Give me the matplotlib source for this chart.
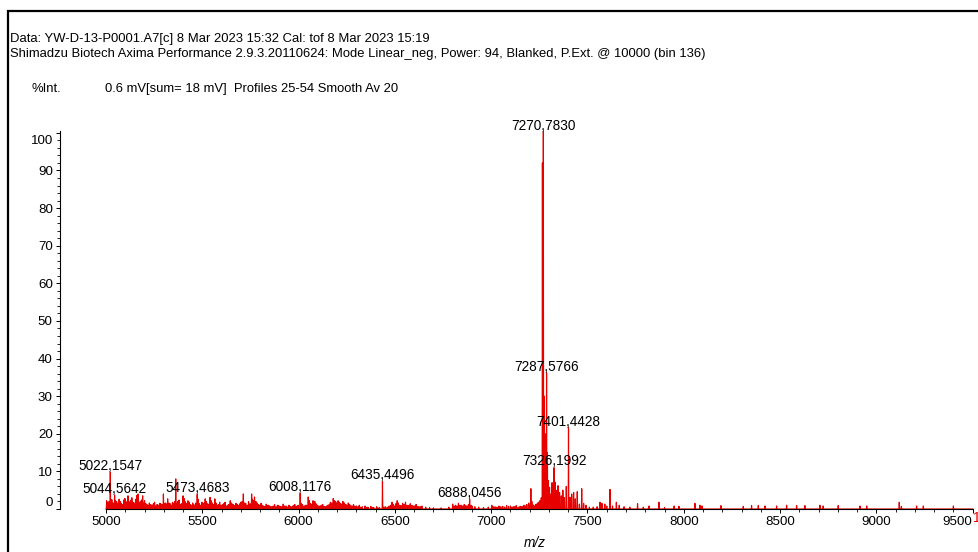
import matplotlib.pyplot as plt
from matplotlib.patches import Rectangle
from matplotlib.transforms import ScaledTranslation

plt.rcParams['font.family'] = ['Liberation Sans', 'DejaVu Sans']

# ---------------------------
# Text
# ---------------------------
header_1 = "Data: YW-D-13-P0001.A7[c] 8 Mar 2023 15:32 Cal: tof 8 Mar 2023 15:19"
header_2 = ("Shimadzu Biotech Axima Performance 2.9.3.20110624: Mode Linear_neg, "
            "Power: 94, Blanked, P.Ext. @ 10000 (bin 136)")
int_label = "%Int."
acq_info = "0.6 mV[sum= 18 mV]  Profiles 25-54 Smooth Av 20"

# ---------------------------
# Data
# ---------------------------
mz_start, mz_end = 5000, 9500

label_mz = [7270.7830, 7287.5766, 7401.4428, 7326.1992, 5022.1547,
            5044.5642, 5473.4683, 6008.1176, 6435.4496, 6888.0456]
label_int = [100.3, 36.2, 21.6, 11.0, 9.8, 3.7, 3.9, 4.2, 7.3, 2.6]

# strongest unlabelled peaks
major_mz = [5114, 5166, 5190, 5298, 5362, 5400, 5540, 5713, 5756, 6050, 6180,
            7206, 7266, 7275, 7280, 7292, 7297, 7303, 7316, 7333, 7347, 7372,
            7390, 7428, 7447, 7470, 7617]
major_int = [3.5, 4.0, 3.5, 4.0, 8.0, 3.5, 3.1, 4.0, 4.0, 3.2, 2.8,
             5.4, 92.0, 30.0, 20.0, 15.0, 7.5, 5.8, 7.0, 7.1, 6.2, 5.0,
             6.0, 4.4, 4.6, 5.4, 5.2]

# baseline noise, 5000-6300
noise_a_mz = [5003, 5006, 5010, 5016, 5030, 5036, 5049, 5055, 5061, 5068, 5074, 5080,
              5086, 5092, 5098, 5105, 5110, 5119, 5125, 5130, 5134, 5140, 5148, 5154,
              5160, 5172, 5178, 5184, 5195, 5200, 5206, 5212, 5218, 5225, 5232, 5240,
              5246, 5252, 5258, 5265, 5271, 5278, 5284, 5290, 5294,
              5304, 5310, 5315, 5320, 5327, 5333, 5338, 5345, 5351, 5356, 5367, 5372,
              5379, 5385, 5391, 5405, 5410, 5417, 5425, 5431, 5438, 5444, 5450, 5455,
              5460, 5466, 5479, 5485, 5491, 5498,
              5509, 5515, 5521, 5528, 5534, 5546, 5552, 5558, 5565, 5571, 5578, 5584,
              5590, 5597, 5605, 5611, 5618, 5625, 5632, 5638, 5645, 5652, 5660, 5667,
              5675, 5682, 5690, 5695, 5700, 5707, 5719, 5725, 5732, 5740, 5748, 5760,
              5765, 5771, 5778, 5784, 5790, 5796,
              5805, 5811, 5818, 5825, 5832, 5838, 5845, 5852, 5860, 5868, 5875, 5882,
              5890, 5897, 5905, 5912, 5920, 5927, 5935, 5942, 5950, 5957, 5965, 5972,
              5980, 5986, 5992, 5998,
              6014, 6020, 6028, 6035, 6042, 6056, 6062, 6068, 6075, 6080, 6084, 6090,
              6098, 6105, 6112, 6118, 6125, 6132, 6140, 6146, 6152, 6159, 6165, 6172,
              6186, 6192, 6198, 6205, 6211, 6218, 6224, 6230, 6238, 6245, 6251, 6258,
              6264, 6270, 6278, 6285, 6292]
noise_a_int = [2.2, 1.8, 1.5, 2.0, 2.5, 1.6, 2.2, 2.0, 1.4, 2.6, 2.0, 1.5,
               1.2, 2.4, 2.8, 1.8, 2.0, 1.5, 2.0, 2.4, 3.0, 1.8, 1.6, 2.6,
               3.6, 1.6, 2.0, 2.4, 1.6, 2.2, 1.5, 1.2, 1.0, 1.6, 1.2, 1.0,
               1.4, 1.8, 0.8, 1.2, 1.0, 1.5, 1.4, 1.2, 0.8,
               1.5, 1.6, 1.2, 2.7, 1.6, 1.4, 1.0, 1.8, 1.5, 2.0, 1.5, 2.0,
               2.4, 1.2, 1.4, 2.8, 2.0, 1.5, 2.2, 1.8, 1.2, 1.0, 1.6, 1.2,
               1.0, 1.6, 2.6, 1.4, 1.0, 1.8,
               1.6, 2.7, 2.0, 1.4, 1.2, 2.2, 1.6, 1.2, 2.7, 1.6, 1.0, 1.2,
               1.8, 1.0, 1.2, 1.4, 1.8, 0.8, 1.0, 1.2, 2.2, 1.6, 1.2, 0.9,
               1.5, 1.2, 1.0, 1.4, 1.8, 2.0, 1.6, 1.5, 1.0, 2.0, 1.4, 2.6,
               2.2, 3.2, 2.0, 1.6, 1.2, 1.0,
               1.5, 1.0, 0.8, 0.7, 1.3, 0.9, 1.0, 0.7, 0.6, 0.8, 1.2, 0.6,
               1.0, 0.9, 0.7, 0.6, 1.3, 0.8, 0.8, 0.5, 1.0, 0.7, 0.6, 0.9,
               1.2, 0.6, 0.8, 1.0,
               1.5, 1.2, 0.8, 1.0, 1.0, 2.2, 1.5, 1.2, 2.2, 1.6, 2.0, 1.4,
               1.0, 0.8, 0.8, 1.0, 1.2, 0.7, 0.6, 0.8, 1.0, 1.2, 1.8, 1.6,
               2.2, 2.0, 1.6, 2.2, 1.8, 1.5, 1.2, 2.0, 1.6, 1.2, 1.0, 1.6,
               1.2, 1.0, 0.8, 1.2, 0.8]

# baseline noise, 6300-7500
noise_b_mz = [6300, 6308, 6315, 6322, 6330, 6345, 6352, 6360, 6375, 6382, 6390, 6405,
              6412, 6420, 6442, 6450, 6460, 6470, 6478, 6485, 6492, 6498, 6505, 6512,
              6518, 6525, 6532, 6540, 6548, 6555, 6562, 6568, 6574, 6580, 6588, 6595,
              6602, 6610, 6618, 6625, 6632, 6640, 6660, 6680, 6700, 6740, 6780, 6800,
              6808, 6815, 6822, 6830, 6838, 6845, 6852, 6860, 6868, 6875, 6882, 6895,
              6900, 6915, 6935, 6960, 6985,
              7003, 7010, 7020, 7030, 7040, 7050, 7060, 7070, 7080, 7090, 7100, 7108,
              7115, 7122, 7130, 7140, 7150, 7160, 7170, 7178, 7185, 7195, 7200, 7211,
              7215, 7220, 7225, 7232, 7240, 7246, 7253, 7260, 7310, 7340, 7355, 7364,
              7380, 7410, 7418, 7437, 7458, 7480, 7492]
noise_b_int = [0.8, 0.6, 1.0, 0.5, 0.6, 0.8, 0.4, 0.5, 0.7, 0.4, 0.4, 0.6,
               0.3, 0.4, 0.5, 0.6, 0.5, 0.8, 1.0, 1.8, 1.2, 0.8, 1.4, 2.2,
               1.6, 1.0, 0.9, 1.5, 1.2, 1.8, 1.0, 0.8, 1.0, 1.4, 1.0, 0.8,
               0.8, 1.2, 0.7, 0.6, 0.6, 0.8, 0.5, 0.4, 0.3, 0.3, 0.5, 1.3,
               0.8, 1.0, 0.8, 1.5, 1.0, 1.0, 0.8, 1.2, 0.9, 0.8, 1.2, 1.0,
               0.8, 0.6, 0.5, 0.4, 0.5,
               1.0, 0.6, 0.6, 0.5, 0.8, 0.6, 0.7, 0.5, 0.9, 0.7, 0.8, 0.5,
               0.6, 0.6, 0.9, 0.5, 0.7, 0.7, 1.0, 0.8, 1.2, 1.6, 1.0, 2.0,
               1.2, 1.0, 0.8, 1.2, 1.6, 1.8, 2.2, 3.0, 4.0, 4.9, 4.4, 3.5,
               3.0, 3.1, 4.0, 2.7, 1.3, 1.5, 1.0]

# sparse noise, 7500-9500
noise_c_mz = [7510, 7530, 7550, 7565, 7575, 7590, 7600, 7630, 7650, 7665, 7690,
              7720, 7760, 7790, 7820, 7871, 7900, 7950, 7975,
              8058, 8084, 8095, 8193, 8309, 8352, 8387, 8422, 8482, 8534, 8586, 8629,
              8707, 8724, 8802, 8915, 8950, 9119, 9130, 9209, 9244, 9400]
noise_c_int = [0.5, 0.5, 0.6, 1.8, 1.5, 1.3, 0.8, 0.8, 1.8, 1.0, 0.6,
               0.5, 1.4, 0.5, 0.8, 1.8, 0.4, 0.8, 0.7,
               1.5, 1.0, 0.8, 0.9, 0.7, 0.9, 0.9, 0.8, 0.8, 1.0, 0.9, 0.9,
               1.0, 0.8, 0.9, 0.8, 0.8, 1.8, 0.7, 0.8, 0.8, 0.8]

x_major = list(range(5000, 9501, 500))
x_minor = list(range(5000, 9501, 100))
y_major = list(range(0, 101, 10))
y_minor = list(range(0, 101, 2))

# ---------------------------
# Build stick-like profile
# ---------------------------
all_mz = label_mz + major_mz + noise_a_mz + noise_b_mz + noise_c_mz
all_int = label_int + major_int + noise_a_int + noise_b_int + noise_c_int
peaks = sorted(zip(all_mz, all_int))
half_width = 1.5
xs, ys = [mz_start], [0]
for m, h in peaks:
    xs += [m - half_width, m, m + half_width]
    ys += [0, h, 0]
xs.append(mz_end)
ys.append(0)

# ---------------------------
# Plot
# ---------------------------
fig = plt.figure(figsize=(9.79, 5.52), dpi=100)
fig.add_artist(Rectangle((8 / 979, -0.05), 1.2, 0.98 + 0.05,
                         transform=fig.transFigure, fill=False,
                         edgecolor='black', linewidth=1.6))

ax = fig.add_axes([60 / 979, 1 - 509 / 552, 919 / 979, 378 / 552])
ax.set_xlim(4761, 9533)
ax.set_ylim(0, 100.5)

ax.plot(xs, ys, color='#e60000', linewidth=0.85, clip_on=False)

for m, h in zip(label_mz, label_int):
    ax.annotate(f"{m:.4f}".replace('.', ','), (m, h), xytext=(0, 4.5),
                textcoords='offset points', ha='center', va='center',
                fontsize=9.8)

for side in ['top', 'right']:
    ax.spines[side].set_visible(False)
ax.spines['left'].set_bounds(0, 100.5)
ax.spines['bottom'].set_bounds(mz_start, mz_end)
ax.spines['left'].set_linewidth(0.8)
ax.spines['bottom'].set_linewidth(0.8)

ax.set_xticks(x_major)
ax.set_xticks(x_minor, minor=True)
ax.set_yticks(y_major)
ax.set_yticks(y_minor, minor=True)
ax.tick_params(which='major', length=3.2, width=0.7, labelsize=9.6, pad=2)
ax.tick_params(which='minor', length=2, width=0.6)

# end labels sit inside the axis range, as in the instrument printout
ticks_y = ax.yaxis.get_major_ticks()
ticks_x = ax.xaxis.get_major_ticks()
for tick, dx, dy in [(ticks_y[0], 0, 7), (ticks_y[-1], 0, -7), (ticks_x[-1], -15, 0)]:
    lbl = tick.label1
    lbl.set_transform(lbl.get_transform() + ScaledTranslation(dx / 100, dy / 100, fig.dpi_scale_trans))

ax.set_xlabel("m/z", style='italic', fontsize=9.8)
ax.xaxis.set_label_coords((535 - 60) / 919, -(536 - 509) / 378)

fig.text(10 / 979, 1 - 39 / 552, header_1, fontsize=9.4, va='center')
fig.text(10 / 979, 1 - 54 / 552, header_2, fontsize=9.4, va='center')
fig.text(32 / 979, 1 - 89 / 552, int_label, fontsize=9.4, va='center')
fig.text(105 / 979, 1 - 89 / 552, acq_info, fontsize=9.4, va='center')
fig.text(973 / 979, 1 - 518 / 552, "1", color='#e60000', fontsize=10, va='center')

fig.savefig("out.png", dpi=100)
